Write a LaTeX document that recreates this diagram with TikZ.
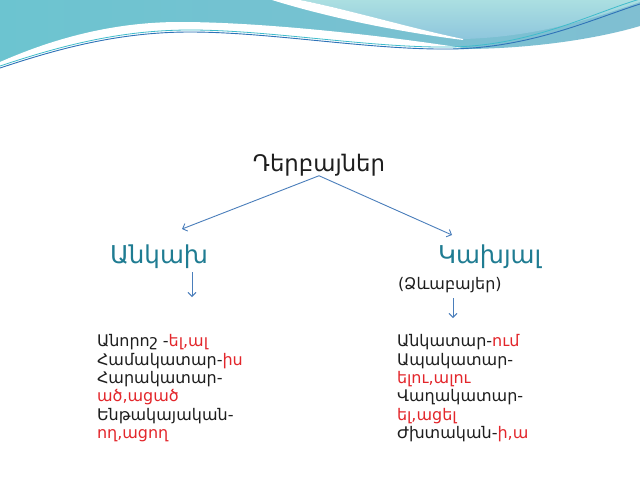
\documentclass[tikz,border=0pt]{standalone}
\usepackage{fontspec}
\setmainfont{DejaVu Sans}
\usetikzlibrary{arrows.meta}
\definecolor{tealtxt}{HTML}{1F7C92}
\definecolor{redtxt}{HTML}{E3262B}
\definecolor{blacktxt}{HTML}{1E1E1E}
\definecolor{arr}{HTML}{4A7EBB}
\definecolor{midteal}{HTML}{80BFD2}
\definecolor{midtealL}{HTML}{6CC4D0}
\definecolor{lightT}{HTML}{ABDFE1}
\definecolor{lightB}{HTML}{8EC6DD}
\definecolor{blueline}{HTML}{2F72B8}
\definecolor{tealline}{HTML}{3FBCCB}
\begin{document}
\begin{tikzpicture}[x=1pt,y=-1pt,
  every node/.style={inner sep=0pt, outer sep=0pt},
  titletxt/.style={font=\fontsize{22.8}{26}\selectfont, text=blacktxt, anchor=base},
  branchtxt/.style={font=\fontsize{24.6}{28}\selectfont, text=tealtxt, anchor=base west},
  subtxt/.style={font=\fontsize{16}{19}\selectfont, text=blacktxt, anchor=base west},
  listtxt/.style={font=\fontsize{16}{18}\selectfont, text=blacktxt, anchor=base west},
  conn/.style={draw=arr, line width=0.9pt, -{Straight Barb[length=4pt,width=8pt]}}]
\useasboundingbox (0,0) rectangle (640,480);
\fill[white] (0,0) rectangle (640,480);
% header base
\shade[left color=midtealL, right color=midteal]
  (0,0) -- (0,68) .. controls (60,48) and (120,32) .. (190,32)
  .. controls (270,32) and (370,50) .. (450,49)
  .. controls (530,50) and (600,38) .. (640,26) -- (640,0) -- cycle;
% white band
\fill[white] (0,62) .. controls (50,40) and (110,22) .. (180,22)
  .. controls (260,22) and (380,35) .. (463,48)
  -- (450,49) .. controls (370,50) and (270,32) .. (190,32)
  .. controls (120,32) and (60,48) .. (0,68) -- cycle;
% light region
\shade[top color=lightT, bottom color=lightB]
  (300,0) .. controls (350,10) and (410,28) .. (463,39)
  .. controls (540,37) and (600,16) .. (640,2) -- (640,0) -- cycle;
% white swoosh
\fill[white] (272,0) .. controls (330,18) and (400,32) .. (463,40)
  -- (463,39) .. controls (410,28) and (350,10) .. (300,0) -- cycle;
% lines
\draw[tealline, line width=0.8pt] (0,66) .. controls (60,46) and (120,30) .. (190,30)
  .. controls (270,30) and (370,48) .. (450,47) .. controls (530,46) and (590,14) .. (640,-1);
\draw[blueline, line width=0.9pt] (0,68) .. controls (60,48) and (120,32) .. (190,32)
  .. controls (270,32) and (370,50) .. (450,49) .. controls (530,48) and (590,20) .. (640,4);
% texts
\node[titletxt] (title) at (319,171) {Դերբայներ};
\node[branchtxt] (ankakh) at (110,263) {Անկախ};
\node[branchtxt] (kakhyal) at (438,263) {Կախյալ};
\node[subtxt] (dzev) at (398,289) {(Ձևաբայեր)};
\node[listtxt] (l1) at (97,346.7) {Անորոշ -\textcolor{redtxt}{ել,ալ}};
\node[listtxt] (l2) at (97,365) {Համակատար-\textcolor{redtxt}{իս}};
\node[listtxt] (l3) at (97,383.3) {Հարակատար-};
\node[listtxt] (l4) at (97,401.7) {\textcolor{redtxt}{ած,ացած}};
\node[listtxt] (l5) at (97,420) {Ենթակայական-};
\node[listtxt] (l6) at (97,438.3) {\textcolor{redtxt}{ող,ացող}};
\node[listtxt] (r1) at (397,346.7) {Անկատար-\textcolor{redtxt}{ում}};
\node[listtxt] (r2) at (397,365) {Ապակատար-};
\node[listtxt] (r3) at (397,383.3) {\textcolor{redtxt}{ելու,ալու}};
\node[listtxt] (r4) at (397,401.7) {Վաղակատար-};
\node[listtxt] (r5) at (397,420) {\textcolor{redtxt}{ել,ացել}};
\node[listtxt] (r6) at (397,438.3) {Ժխտական-\textcolor{redtxt}{ի,ա}};
% connectors
\coordinate (la) at (182,229);
\coordinate (ra) at (452,235);
\coordinate (ld0) at (192,272);
\coordinate (ld1) at (192,297);
\coordinate (rd0) at (453,298);
\coordinate (rd1) at (453,318);
\draw[conn] (title.south) -- (la);
\draw[conn] (title.south) -- (ra);
\draw[conn] (ld0) -- (ld1);
\draw[conn] (rd0) -- (rd1);
\end{tikzpicture}
\end{document}
